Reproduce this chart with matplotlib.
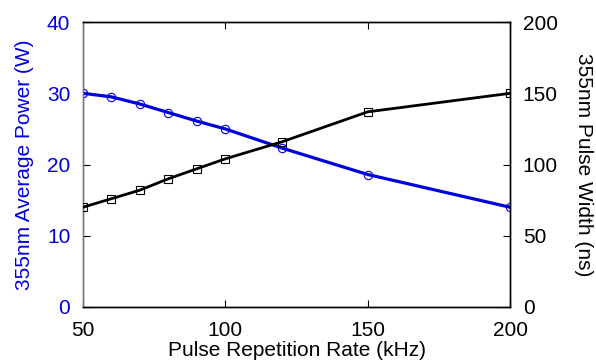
import matplotlib
matplotlib.use("Agg")
import matplotlib.pyplot as plt

rate_khz = [50, 60, 70, 80, 90, 100, 120, 150, 200]
avg_power_w = [30.0, 29.5, 28.5, 27.3, 26.1, 25.0, 22.3, 18.6, 14.0]
pulse_width_ns = [70, 76, 82, 90, 97, 104, 116, 137, 150]

x_ticks = [50, 100, 150, 200]
left_ticks = [0, 10, 20, 30, 40]
right_ticks = [0, 50, 100, 150, 200]

plt.rcParams['font.family'] = ['Liberation Sans', 'DejaVu Sans']
fs = 15

fig = plt.figure(figsize=(5.96, 3.62), dpi=100)
ax = fig.add_axes([0.139, 0.152, 0.717, 0.787])
ax2 = ax.twinx()

blue = '#0000dd'
ax.plot(rate_khz, avg_power_w, color=blue, lw=2.3, marker='o', ms=6,
        mfc='none', mec=blue, mew=0.8, zorder=3)
ax2.plot(rate_khz, pulse_width_ns, color='black', lw=2.0, marker='s', ms=6,
         mfc='none', mec='black', mew=0.8, zorder=3)

ax.set_xlim(50, 200)
ax.set_ylim(0, 40)
ax2.set_ylim(0, 200)
ax.set_xticks(x_ticks)
ax.set_yticks(left_ticks)
ax2.set_yticks(right_ticks)

ax.tick_params(axis='x', direction='in', top=True, length=5, labelsize=fs, pad=10)
ax.tick_params(axis='y', direction='in', length=5, labelsize=fs, labelcolor=blue, pad=9)
ax2.tick_params(axis='y', direction='in', length=5, labelsize=fs, pad=9)

for a in (ax, ax2):
    for s in a.spines.values():
        s.set_linewidth(1.0)
ax.spines['left'].set_color('#777777')
ax2.spines['left'].set_color('#777777')

ax.set_xlabel('Pulse Repetition Rate (kHz)', fontsize=fs, labelpad=1)
ax.set_ylabel('355nm Average Power (W)', fontsize=fs, color=blue, labelpad=9)
ax2.set_ylabel('355nm Pulse Width (ns)', fontsize=fs, rotation=270, labelpad=25)

fig.savefig('out.png', dpi=100)
